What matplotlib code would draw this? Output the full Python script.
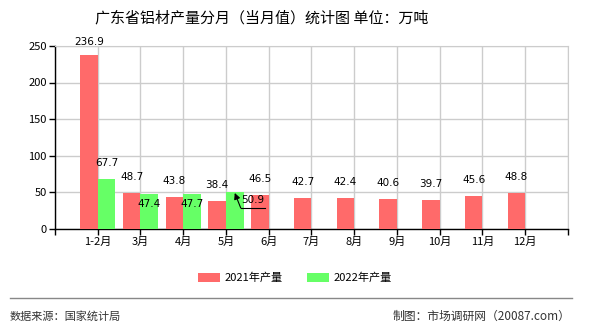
import matplotlib.pyplot as plt
import numpy as np

plt.rcParams['font.family'] = ['Noto Sans CJK SC', 'DejaVu Sans']

months = ["1-2月", "3月", "4月", "5月", "6月", "7月", "8月", "9月", "10月", "11月", "12月"]
prod_2021 = [236.9, 48.7, 43.8, 38.4, 46.5, 42.7, 42.4, 40.6, 39.7, 45.6, 48.8]
prod_2022 = [67.7, 47.4, 47.7, 50.9]

red = "#ff6a6a"
green = "#66ff66"


def main():
    fig = plt.figure(figsize=(5.9, 3.3), dpi=100)
    ax = fig.add_axes([0.0932, 0.306, 0.8695, 0.555])

    x = np.arange(1, len(months) + 1)
    w = 0.41
    ax.bar(x - w / 2, prod_2021, width=w, color=red, zorder=3, label="2021年产量")
    x22 = x[:len(prod_2022)]
    ax.bar(x22 + w / 2, prod_2022, width=w, color=green, zorder=3, label="2022年产量")

    for xi, v in zip(x, prod_2021):
        off = 6 if v > 200 else 8
        ax.annotate(f"{v:.1f}", (xi - w / 2, v), xytext=(0, off), textcoords="offset points",
                    ha="center", va="bottom", fontsize=7.5, family="DejaVu Sans", zorder=5)

    # 2022 labels: first above, next two inside, last one pushed aside with a leader line
    ax.annotate(f"{prod_2022[0]:.1f}", (x22[0] + w / 2, prod_2022[0]), xytext=(0, 8),
                textcoords="offset points", ha="center", va="bottom", fontsize=7.5,
                family="DejaVu Sans", zorder=5)
    for xi, v in zip(x22[1:3], prod_2022[1:3]):
        ax.annotate(f"{v:.1f}", (xi + w / 2, v), xytext=(0, -7), textcoords="offset points",
                    ha="center", va="center", fontsize=7.5, family="DejaVu Sans", zorder=5)

    last = x22[3] + w / 2
    ax.text(last + 0.42, prod_2022[3] - 11.3, f"{prod_2022[3]:.1f}", ha="center", va="center",
            fontsize=7.5, family="DejaVu Sans", zorder=5)
    ax.plot([last + 0.70, last + 0.14], [prod_2022[3] - 22.2, prod_2022[3] - 22.2],
            color="black", lw=0.8, zorder=5)
    ax.annotate("", xy=(last, prod_2022[3] - 1.7), xytext=(last + 0.14, prod_2022[3] - 22.2),
                arrowprops=dict(arrowstyle="-|>", color="black", lw=0.8, mutation_scale=9,
                                shrinkA=0, shrinkB=0), zorder=5)

    ax.set_xlim(0, 12)
    ax.set_ylim(0, 250)
    ax.set_xticks(np.arange(0, 13))
    ax.set_xticklabels([""] + months + [""], fontsize=8)
    ax.set_yticks(np.arange(0, 251, 50))
    ax.tick_params(axis="y", labelsize=8, length=4, width=1, pad=2)
    ax.tick_params(axis="x", length=4, width=1, pad=2)
    ax.grid(True, color="#cccccc", lw=1, zorder=0)
    for s in ["top", "right"]:
        ax.spines[s].set_color("#cccccc")
    for s in ["left", "bottom"]:
        ax.spines[s].set_color("black")
        ax.spines[s].set_linewidth(1)

    fig.text(0.443, 0.945, "广东省铝材产量分月（当月值）统计图 单位：万吨", ha="center",
             va="center", fontsize=10.8)

    fig.legend(loc="center", bbox_to_anchor=(0.5, 0.158), ncol=2, frameon=False,
               fontsize=8, handlelength=2.0, handleheight=0.9, columnspacing=2.2,
               handletextpad=0.4)

    fig.add_artist(plt.Line2D([0.017, 0.97], [0.097, 0.097], color="#888888", lw=1))
    fig.text(0.017, 0.04, "数据来源：国家统计局", ha="left", va="center", fontsize=8,
             color="#333333")
    fig.text(0.967, 0.04, "制图：市场调研网（20087.com）", ha="right", va="center",
             fontsize=8.5, color="#333333")

    fig.savefig("out.png", dpi=100)
    plt.close(fig)


if __name__ == "__main__":
    main()
